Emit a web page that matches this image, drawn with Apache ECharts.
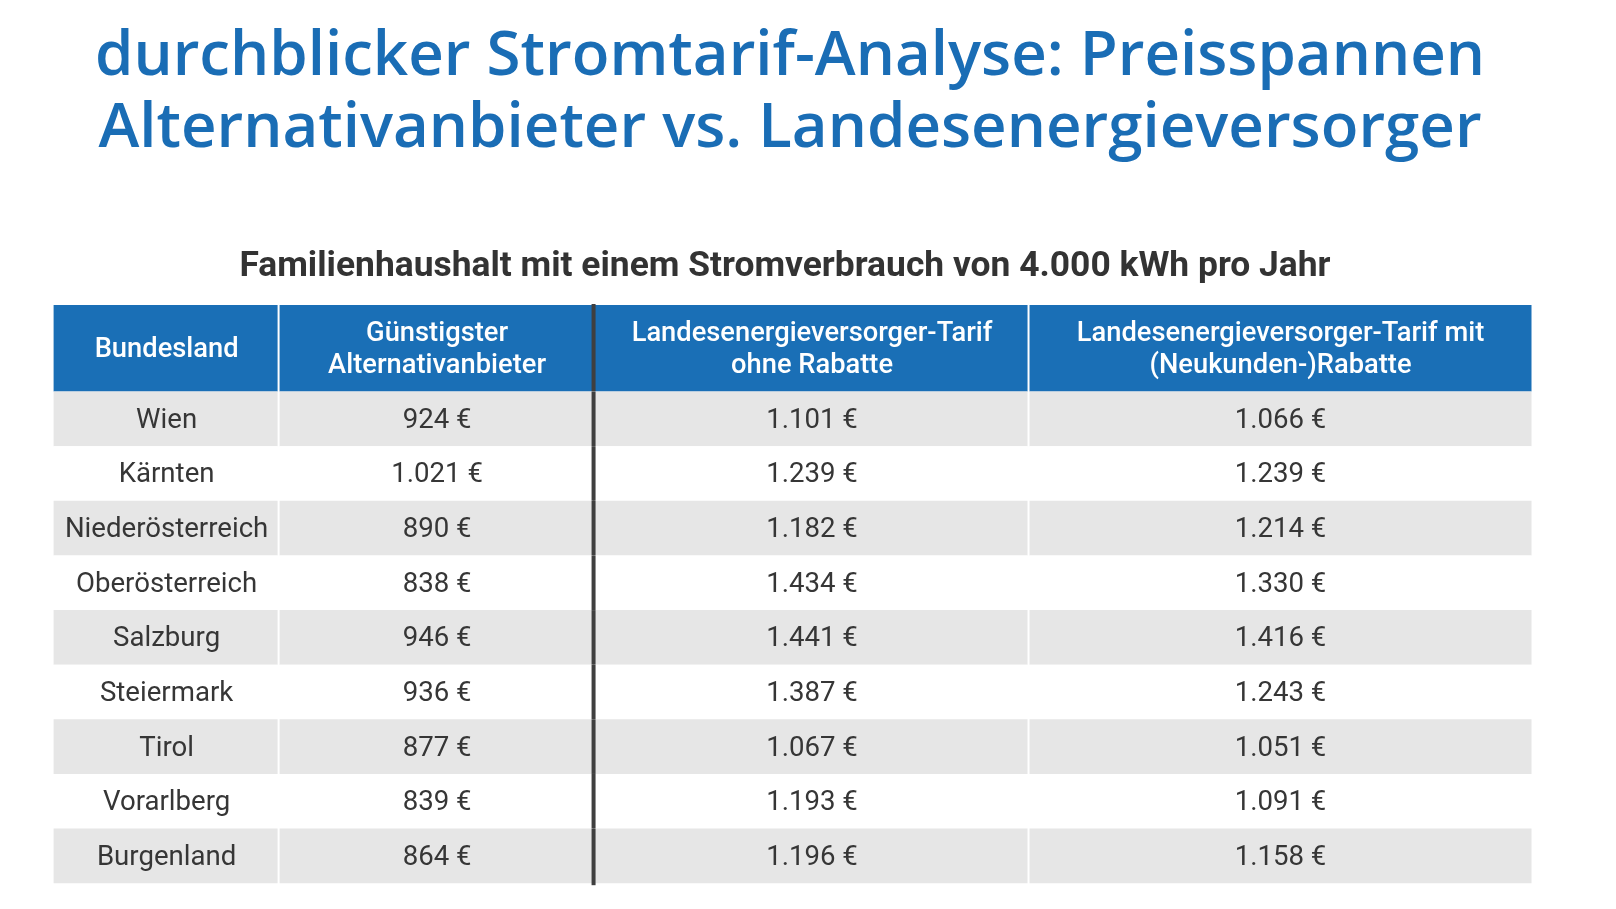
<!DOCTYPE html>
<html>
<head>
<meta charset="utf-8">
<style>html,body{margin:0;padding:0;background:#fff;}#c{width:1616px;height:909px;}</style>
<script src="https://cdn.jsdelivr.net/npm/echarts@6/dist/echarts.min.js"></script>
</head>
<body>
<div id="c"></div>
<script>
// ---- data ----
const titleText = 'durchblicker Stromtarif-Analyse: Preisspannen\nAlternativanbieter vs. Landesenergieversorger';
const subtitleText = 'Familienhaushalt mit einem Stromverbrauch von 4.000 kWh pro Jahr';
const headers = ['Bundesland', 'Günstigster\nAlternativanbieter', 'Landesenergieversorger-Tarif\nohne Rabatte', 'Landesenergieversorger-Tarif mit\n(Neukunden-)Rabatte'];
const regions = ['Wien', 'Kärnten', 'Niederösterreich', 'Oberösterreich', 'Salzburg', 'Steiermark', 'Tirol', 'Vorarlberg', 'Burgenland'];
const alternativ = [924, 1021, 890, 838, 946, 936, 877, 839, 864];
const ohneRabatt = [1101, 1239, 1182, 1434, 1441, 1387, 1067, 1193, 1196];
const mitRabatt = [1066, 1239, 1214, 1330, 1416, 1243, 1051, 1091, 1158];

// ---- layout ----
const colEdges = [0, 226, 541, 976, 1478];
const BLUE = '#1a6fb6';
const GRAY = '#e6e6e6';
const TEXT = '#363636';

function fmt(n) { return String(n).replace(/\B(?=(\d{3})+(?!\d))/g, '.') + ' €'; }

const bodyData = [];
const bodyText = [];
regions.forEach((r, i) => {
  [r, fmt(alternativ[i]), fmt(ohneRabatt[i]), fmt(mitRabatt[i])].forEach((t, j) => {
    bodyData.push([j, i]);
    bodyText.push(t);
  });
});
const headData = headers.map((h, j) => [j, 0]);

function cellRenderer(isHeader) {
  return function (params, api) {
    const j = api.value(0), i = api.value(1);
    const p0 = api.coord([colEdges[j], i]);
    const p1 = api.coord([colEdges[j + 1], i]);
    const h = api.size([0, 1])[1];
    const x0 = p0[0], x1 = p1[0], y = p0[1] - h / 2;
    const fill = isHeader ? BLUE : (i % 2 === 0 ? GRAY : '#ffffff');
    const gap = j < colEdges.length - 2 ? 2 : 0;
    const txt = isHeader ? headers[params.dataIndex] : bodyText[params.dataIndex];
    const children = [{
      type: 'rect',
      shape: { x: x0, y: y, width: x1 - x0 - gap, height: h },
      style: { fill: fill }
    }, {
      type: 'text',
      x: (x0 + x1) / 2, y: p0[1] + 2,
      style: {
        text: txt,
        align: 'center', verticalAlign: 'middle',
        fontFamily: 'Roboto', fontSize: isHeader ? 27.3 : 27.6,
        fontWeight: isHeader ? 500 : 400,
        lineHeight: 32,
        fill: isHeader ? '#ffffff' : TEXT
      }
    }];
    if (j === 2) {
      children.push({
        type: 'rect',
        shape: { x: x0 - 3, y: y - (isHeader ? 1 : 0), width: 4, height: h + (isHeader ? 1 : 0) + (!isHeader && i === regions.length - 1 ? 2 : 0) },
        style: { fill: '#3f3f3f' }
      });
    }
    return { type: 'group', children: children };
  };
}

const chart = echarts.init(document.getElementById('c'), null, { renderer: 'canvas' });
chart.setOption({
  backgroundColor: '#ffffff',
  animation: false,
  title: [{
    text: titleText, left: 790, top: 21, padding: 0, textAlign: 'center',
    textStyle: { fontFamily: 'Open Sans', fontWeight: 600, fontSize: 61.8, lineHeight: 72, color: '#1a6db5' }
  }, {
    text: subtitleText, left: 785, top: 247, padding: 0, textAlign: 'center',
    textStyle: { fontFamily: 'Roboto', fontWeight: 700, fontSize: 35.4, lineHeight: 40, color: '#333333' }
  }],
  grid: [
    { left: 53.6, width: 1477.9, top: 305, height: 86.5 },
    { left: 53.6, width: 1477.9, top: 391.6, height: 491.6 }
  ],
  xAxis: [
    { type: 'value', gridIndex: 0, min: 0, max: 1478, show: false },
    { type: 'value', gridIndex: 1, min: 0, max: 1478, show: false }
  ],
  yAxis: [
    { type: 'category', gridIndex: 0, data: ['header'], inverse: true, show: false },
    { type: 'category', gridIndex: 1, data: regions, inverse: true, show: false }
  ],
  series: [
    { type: 'custom', xAxisIndex: 0, yAxisIndex: 0, data: headData, renderItem: cellRenderer(true), silent: true },
    { type: 'custom', xAxisIndex: 1, yAxisIndex: 1, data: bodyData, renderItem: cellRenderer(false), silent: true }
  ]
});
</script>
</body>
</html>
